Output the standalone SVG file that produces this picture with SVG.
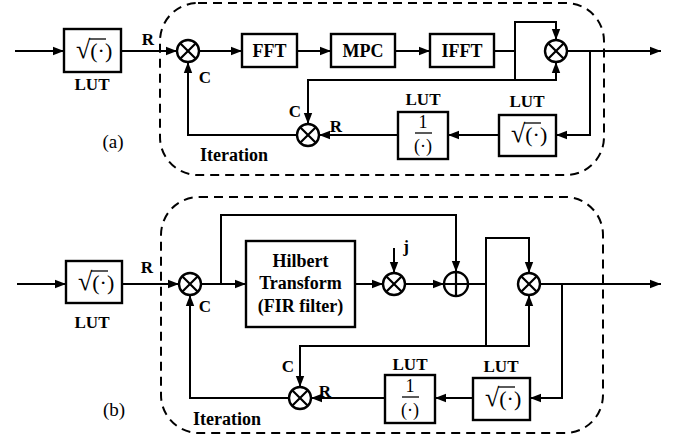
<svg xmlns="http://www.w3.org/2000/svg" width="678" height="440" viewBox="0 0 678 440">
<defs>
<marker id="ah" markerUnits="userSpaceOnUse" markerWidth="12" markerHeight="10" refX="11" refY="5" orient="auto">
<path d="M0,0.8 L11,5 L0,9.2 Z" fill="#000"/>
</marker>
<style>
.box{fill:#fff;stroke:#000;stroke-width:2.4}
.w{fill:none;stroke:#000;stroke-width:2}
.wa{fill:none;stroke:#000;stroke-width:2;marker-end:url(#ah)}
.op{fill:#fff;stroke:#000;stroke-width:2.4}
.opx{stroke:#000;stroke-width:2.2}
.vin{stroke:#000;stroke-width:1.3}
.dash{fill:none;stroke:#000;stroke-width:2;stroke-dasharray:9 6}
.t{font-family:"Liberation Serif","Times New Roman",serif;font-weight:bold;font-size:17px;text-anchor:middle;fill:#000}
.tb{font-family:"Liberation Serif","Times New Roman",serif;font-weight:bold;font-size:18px;text-anchor:middle;fill:#000}
.tn{font-family:"Liberation Serif","Times New Roman",serif;font-size:19px;text-anchor:middle;fill:#000}
.m{font-family:"Liberation Serif","Times New Roman",serif;font-size:18px;text-anchor:middle;fill:#000}
.sq{font-family:"Liberation Serif","Times New Roman",serif;font-size:22px;fill:#000}
.rad{font-size:26px}
</style>
</defs>
<rect width="678" height="440" fill="#fff"/>

<!-- iteration boundaries -->
<rect class="dash" x="160" y="3" width="444" height="172" rx="38"/>
<rect class="dash" x="161" y="197" width="442" height="236" rx="38"/>

<g id="connectors">
<!-- (a) -->
<path class="wa" d="M15,51 H64"/>
<path class="wa" d="M121,51 H177"/>
<path class="wa" d="M199,51 H242"/>
<path class="wa" d="M297,51 H331"/>
<path class="wa" d="M395,51 H430"/>
<path class="w" d="M494,51 H515"/>
<path class="wa" d="M515,80 V22 H556 V40"/>
<path class="wa" d="M515,80 H556 V62"/>
<path class="wa" d="M515,80 H308 V124"/>
<path class="wa" d="M567,51 H661"/>
<path class="wa" d="M590,51 V135 H556"/>
<path class="wa" d="M499,135 H448"/>
<path class="wa" d="M398,135 H319"/>
<path class="wa" d="M297,135 H188 V62"/>
<!-- (b) -->
<path class="wa" d="M17,284 H66"/>
<path class="wa" d="M122,284 H179"/>
<path class="wa" d="M201,284 H246"/>
<path class="wa" d="M221,284 V215 H456 V272"/>
<path class="wa" d="M355,284 H383"/>
<path class="wa" d="M394,248 V273"/>
<path class="wa" d="M405,284 H444"/>
<path class="w" d="M468,284 H486"/>
<path class="wa" d="M486,284 V238 H529 V273"/>
<path class="wa" d="M486,284 V346 H529 V295"/>
<path class="wa" d="M486,346 H300 V387"/>
<path class="wa" d="M540,284 H661"/>
<path class="wa" d="M562,284 V398 H530"/>
<path class="wa" d="M473,398 H435"/>
<path class="wa" d="M385,398 H311"/>
<path class="wa" d="M289,398 H190 V295"/>
</g>

<!-- (a) nodes -->
<g id="a_lut_in">
<rect class="box" x="64" y="29" width="57" height="43"/>
<text class="sq" x="76" y="58"><tspan class="rad">√</tspan><tspan>(·)</tspan></text>
<line class="vin" x1="89" y1="39" x2="106" y2="39"/>
<text class="t" x="92" y="90">LUT</text>
</g>
<g id="a_mul1">
<circle class="op" cx="188" cy="51" r="11"/>
<path class="opx" d="M180.2,43.2 L195.8,58.8 M195.8,43.2 L180.2,58.8"/>
</g>
<g id="a_fft"><rect class="box" x="242" y="34" width="55" height="33"/><text class="tb" x="269.5" y="57">FFT</text></g>
<g id="a_mpc"><rect class="box" x="331" y="34" width="64" height="33"/><text class="tb" x="363" y="57">MPC</text></g>
<g id="a_ifft"><rect class="box" x="430" y="34" width="64" height="33"/><text class="tb" x="462" y="57">IFFT</text></g>
<g id="a_mul2">
<circle class="op" cx="556" cy="51" r="11"/>
<path class="opx" d="M548.2,43.2 L563.8,58.8 M563.8,43.2 L548.2,58.8"/>
</g>
<g id="a_lut_sqrt">
<rect class="box" x="499" y="115" width="57" height="41"/>
<text class="sq" x="511" y="142"><tspan class="rad">√</tspan><tspan>(·)</tspan></text>
<line class="vin" x1="524" y1="123" x2="541" y2="123"/>
<text class="t" x="527" y="107">LUT</text>
</g>
<g id="a_lut_inv">
<rect class="box" x="398" y="112" width="50" height="47"/>
<text class="m" x="423" y="128" font-size="16">1</text>
<line class="vin" x1="415" y1="133" x2="432" y2="133"/>
<text class="m" x="423" y="152">(·)</text>
<text class="t" x="423" y="105">LUT</text>
</g>
<g id="a_mul3">
<circle class="op" cx="308" cy="135" r="11"/>
<path class="opx" d="M300.2,127.2 L315.8,142.8 M315.8,127.2 L300.2,142.8"/>
</g>
<g id="a_labels">
<text class="t" x="148" y="45">R</text>
<text class="t" x="205" y="83">C</text>
<text class="t" x="295" y="117">C</text>
<text class="t" x="336" y="132">R</text>
<text class="tn" x="113" y="148">(a)</text>
<text class="tb" x="234" y="161">Iteration</text>
</g>

<!-- (b) nodes -->
<g id="b_lut_in">
<rect class="box" x="66" y="261" width="56" height="42"/>
<text class="sq" x="78" y="290"><tspan class="rad">√</tspan><tspan>(·)</tspan></text>
<line class="vin" x1="91" y1="271" x2="108" y2="271"/>
<text class="t" x="92" y="328">LUT</text>
</g>
<g id="b_mul1">
<circle class="op" cx="190" cy="284" r="11"/>
<path class="opx" d="M182.2,276.2 L197.8,291.8 M197.8,276.2 L182.2,291.8"/>
</g>
<g id="b_hilbert">
<rect class="box" x="246" y="241" width="109" height="86"/>
<text class="tb" x="300.5" y="267">Hilbert</text>
<text class="tb" x="300.5" y="289">Transform</text>
<text class="tb" x="300.5" y="312">(FIR filter)</text>
</g>
<g id="b_mulj">
<circle class="op" cx="394" cy="284" r="11"/>
<path class="opx" d="M386.2,276.2 L401.8,291.8 M401.8,276.2 L386.2,291.8"/>
</g>
<g id="b_add">
<circle class="op" cx="456" cy="284" r="12"/>
<path class="opx" d="M456,272 V296 M444,284 H468"/>
</g>
<g id="b_mul2">
<circle class="op" cx="529" cy="284" r="11"/>
<path class="opx" d="M521.2,276.2 L536.8,291.8 M536.8,276.2 L521.2,291.8"/>
</g>
<g id="b_lut_sqrt">
<rect class="box" x="473" y="378" width="57" height="42"/>
<text class="sq" x="485" y="406"><tspan class="rad">√</tspan><tspan>(·)</tspan></text>
<line class="vin" x1="498" y1="387" x2="515" y2="387"/>
<text class="t" x="501" y="372">LUT</text>
</g>
<g id="b_lut_inv">
<rect class="box" x="385" y="375" width="50" height="48"/>
<text class="m" x="410" y="392" font-size="16">1</text>
<line class="vin" x1="402" y1="397" x2="419" y2="397"/>
<text class="m" x="410" y="416">(·)</text>
<text class="t" x="410" y="370">LUT</text>
</g>
<g id="b_mul3">
<circle class="op" cx="300" cy="398" r="11"/>
<path class="opx" d="M292.2,390.2 L307.8,405.8 M307.8,390.2 L292.2,405.8"/>
</g>
<g id="b_labels">
<text class="t" x="147" y="273">R</text>
<text class="t" x="406" y="252">j</text>
<text class="t" x="205" y="312">C</text>
<text class="t" x="288" y="372">C</text>
<text class="t" x="325" y="397">R</text>
<text class="tn" x="114" y="416">(b)</text>
<text class="tb" x="227" y="425">Iteration</text>
</g>
</svg>
